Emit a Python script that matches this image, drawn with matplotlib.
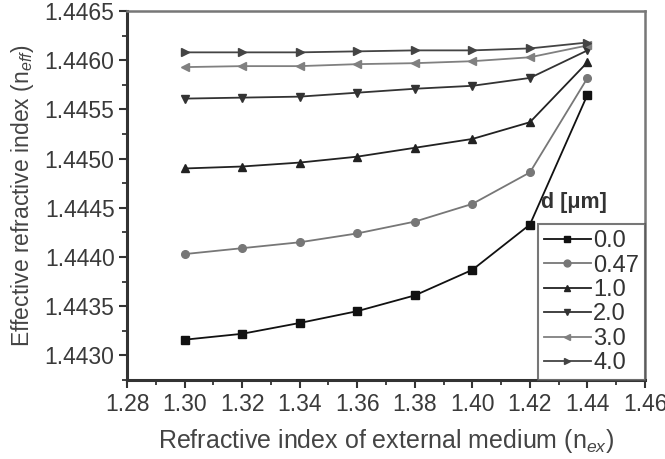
import matplotlib
matplotlib.use("Agg")
import matplotlib.pyplot as plt
from matplotlib.ticker import MultipleLocator, FormatStrFormatter

plt.rcParams['font.family'] = ['Liberation Sans', 'DejaVu Sans']
plt.rcParams['mathtext.fontset'] = 'custom'
plt.rcParams['mathtext.rm'] = 'Liberation Sans'
plt.rcParams['mathtext.it'] = 'Liberation Sans:italic'

n_ex = [1.30, 1.32, 1.34, 1.36, 1.38, 1.40, 1.42, 1.44]
d_labels = ['0.0', '0.47', '1.0', '2.0', '3.0', '4.0']
n_eff_d00 = [1.44316, 1.44322, 1.44333, 1.44345, 1.44361, 1.44387, 1.44433, 1.44565]
n_eff_d047 = [1.44403, 1.44409, 1.44415, 1.44424, 1.44436, 1.44454, 1.44486, 1.44582]
n_eff_d10 = [1.44490, 1.44492, 1.44496, 1.44502, 1.44511, 1.44520, 1.44537, 1.44598]
n_eff_d20 = [1.44561, 1.44562, 1.44563, 1.44567, 1.44571, 1.44574, 1.44582, 1.44610]
n_eff_d30 = [1.44593, 1.44594, 1.44594, 1.44596, 1.44597, 1.44599, 1.44603, 1.44615]
n_eff_d40 = [1.44608, 1.44608, 1.44608, 1.44609, 1.44610, 1.44610, 1.44612, 1.44618]

series = [n_eff_d00, n_eff_d047, n_eff_d10, n_eff_d20, n_eff_d30, n_eff_d40]
markers = ['s', 'o', '^', 'v', '<', '>']
colors = ['#111111', '#777777', '#222222', '#333333', '#808080', '#444444']

fig = plt.figure(figsize=(6.65, 4.59), dpi=100)
ax = fig.add_axes([0.191, 0.172, 0.779, 0.804])

for vals, m, c, lab in zip(series, markers, colors, d_labels):
    ax.plot(n_ex, vals, marker=m, color=c, markersize=5.5, linewidth=1.3, label=lab)

ax.set_xlim(1.28, 1.46)
ax.set_ylim(1.44275, 1.4465)
ax.xaxis.set_major_locator(MultipleLocator(0.02))
ax.xaxis.set_minor_locator(MultipleLocator(0.01))
ax.yaxis.set_major_locator(MultipleLocator(0.0005))
ax.yaxis.set_minor_locator(MultipleLocator(0.00025))
ax.xaxis.set_major_formatter(FormatStrFormatter('%.2f'))
ax.yaxis.set_major_formatter(FormatStrFormatter('%.4f'))

ax.tick_params(which='major', direction='out', length=6, width=1.5, labelsize=16.5,
               colors='#333333', labelcolor='#3a3a3a', pad=3)
ax.tick_params(which='minor', direction='out', length=3.5, width=1.3, colors='#333333')
ax.tick_params(top=False, right=False, which='both')

for s in ['left', 'bottom']:
    ax.spines[s].set_linewidth(2.2)
    ax.spines[s].set_color('#333333')
for s in ['top', 'right']:
    ax.spines[s].set_linewidth(1.8)
    ax.spines[s].set_color('#777777')

ax.set_xlabel('Refractive index of external medium (n$_{ex}$)', fontsize=18,
              color='#444444', labelpad=8)
ax.set_ylabel('Effective refractive index (n$_{eff}$)', fontsize=16.5,
              color='#444444', labelpad=6)

leg = ax.legend(loc='lower right', bbox_to_anchor=(1.0, 0.0), borderaxespad=0,
                fontsize=17, handlelength=2.0, handletextpad=0.1, labelspacing=0.1,
                fancybox=False, frameon=True, borderpad=0.25, markerscale=0.9)
leg.get_frame().set_edgecolor('#555555')
leg.get_frame().set_linewidth(1.5)
for t in leg.get_texts():
    t.set_color('#333333')

ax.text(0.80, 0.48, 'd [μm]', transform=ax.transAxes, fontsize=15.5,
        fontweight='bold', color='#333333', ha='left', va='center')

fig.savefig('out.png', dpi=100)
